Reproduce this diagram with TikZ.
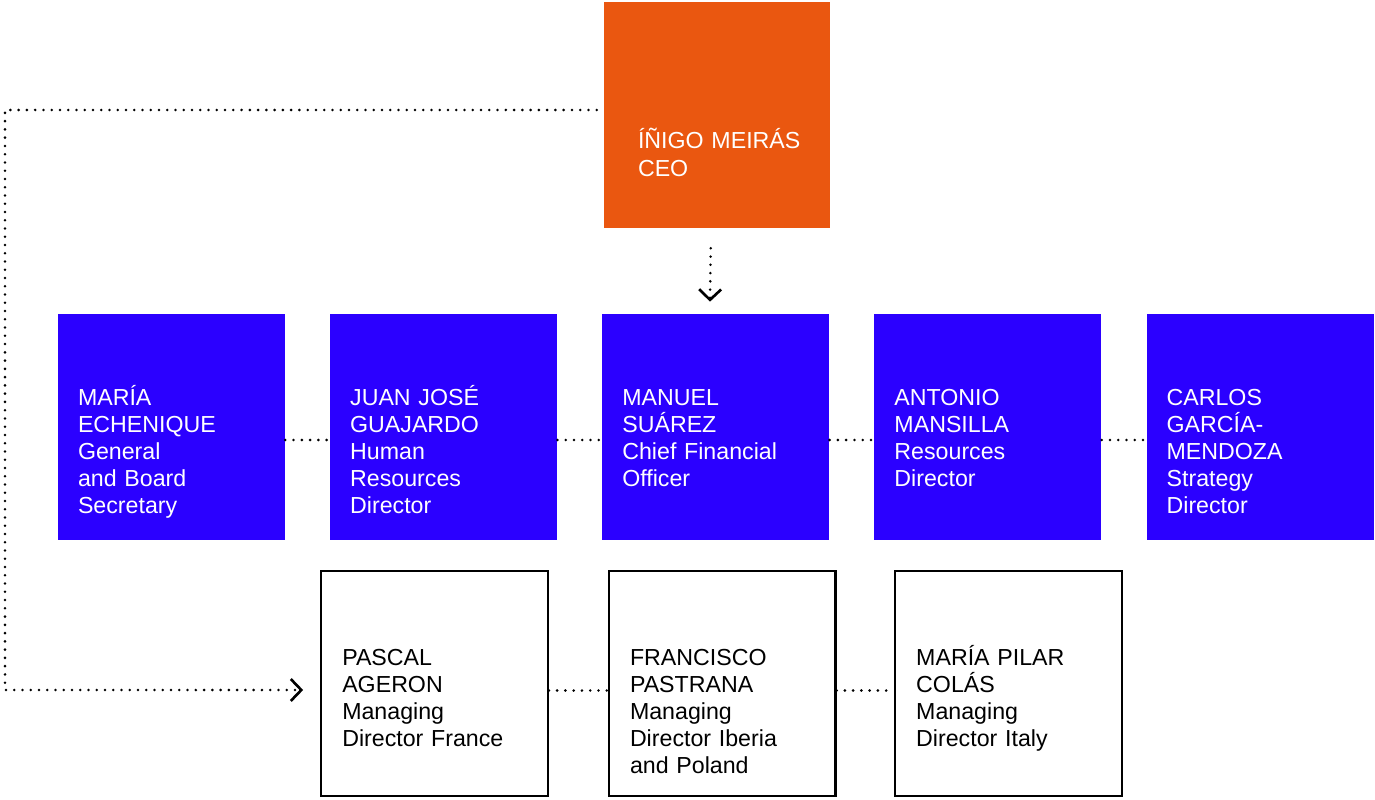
\documentclass[tikz,border=0pt]{standalone}
\usepackage{fontspec}
\setmainfont{Liberation Sans}
\usetikzlibrary{positioning, arrows.meta}

\definecolor{ceoorange}{RGB}{234,87,16}
\definecolor{boardblue}{RGB}{43,0,255}

\tikzset{
  card/.style={rectangle, inner ysep=0pt, align=left,
    font=\fontsize{13.2pt}{15.4pt}\selectfont},
  chief/.style={card, fill=ceoorange, text=white, inner xsep=0.68cm,
    text width=3.16cm, text height=2.94cm, text depth=1.58cm},
  board/.style={card, fill=boardblue, text=white, inner xsep=0.40cm,
    text width=3.74cm, text height=1.82cm, text depth=2.70cm},
  country/.style={card, draw=black, line width=1.3pt, inner xsep=0.42cm,
    text width=3.69cm, text height=1.89cm, text depth=2.60cm},
  link/.style={line width=1.6pt, dash pattern=on 0pt off 4.7pt, line cap=round},
  tip/.style={-{Straight Barb[length=6pt,width=12.5pt,line width=1.5pt]}}
}

\begin{document}
\begin{tikzpicture}[x=0.02cm, y=-0.02cm]
\useasboundingbox (0,0) rectangle (1375,800);

% CEO
\node[chief] (ceo) at (717,115) {\mbox{ÍÑIGO MEIRÁS}\\CEO};

% directors
\node[board] (maria) at (171.5,427) {MARÍA\\ECHENIQUE\\General\\and Board\\Secretary};
\node[board, right=0.89cm of maria] (juan) {JUAN JOSÉ\\GUAJARDO\\Human\\Resources\\Director};
\node[board, right=0.89cm of juan] (manuel) {MANUEL\\SUÁREZ\\Chief Financial\\Officer};
\node[board, right=0.89cm of manuel] (antonio) {ANTONIO\\MANSILLA\\Resources\\Director};
\node[board, right=0.89cm of antonio] (carlos) {CARLOS\\GARCÍA-\\MENDOZA\\Strategy\\Director};

% country managers
\node[country] (pascal) at (434.5,683.5) {PASCAL\\AGERON\\Managing\\Director France};
\node[country, right=1.18cm of pascal] (francisco) {FRANCISCO\\PASTRANA\\Managing\\Director Iberia\\and Poland};
\node[country, right=1.15cm of francisco] (pilar) {MARÍA PILAR\\COLÁS\\Managing\\Director Italy};

\coordinate (bend) at (5,110);

\draw[link, tip, shorten <=0.4cm, shorten >=0.24cm]
    ([xshift=-0.12cm]ceo.south) -- ([xshift=-0.12cm]manuel.north);
\draw[link, tip]
    ([shift={(-0.14cm,0.1cm)}]ceo.west) -- (bend)
    |- ([shift={(-0.34cm,-0.13cm)}]pascal.west);

\draw[link]
    ([yshift=-0.26cm]maria.east) -- ([yshift=-0.26cm]juan.west)
    ([yshift=-0.26cm]juan.east) -- ([yshift=-0.26cm]manuel.west)
    ([yshift=-0.26cm]manuel.east) -- ([yshift=-0.26cm]antonio.west)
    ([yshift=-0.26cm]antonio.east) -- ([yshift=-0.26cm]carlos.west)
    ([yshift=-0.14cm]pascal.east) -- ([yshift=-0.14cm]francisco.west)
    ([yshift=-0.14cm]francisco.east) -- ([yshift=-0.14cm]pilar.west);
\end{tikzpicture}
\end{document}
